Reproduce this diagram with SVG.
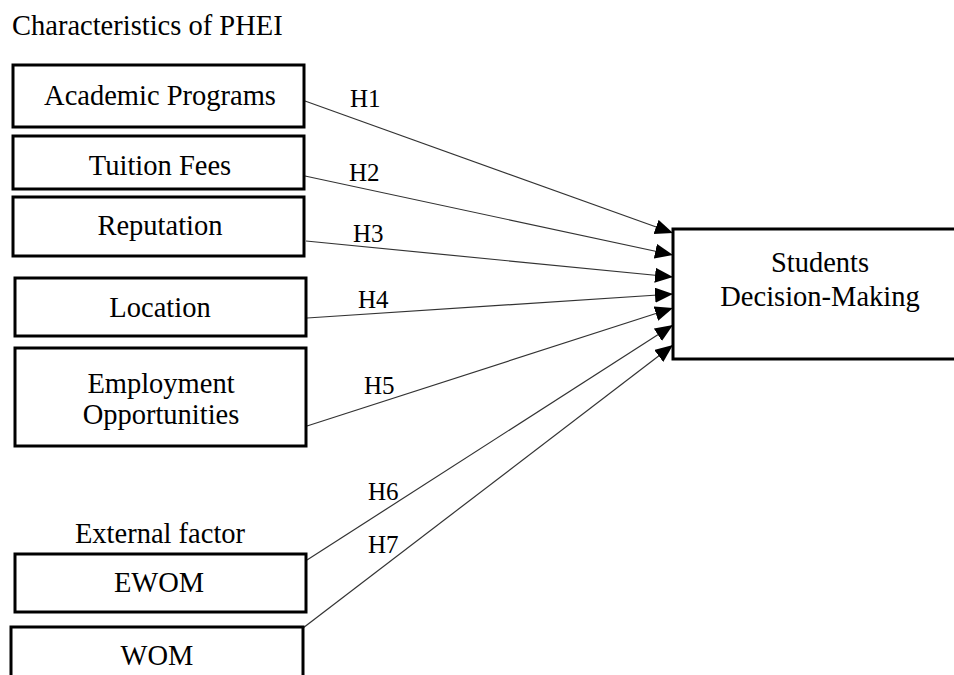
<svg xmlns="http://www.w3.org/2000/svg" width="954" height="675" viewBox="0 0 954 675">
<style>
text{font-family:"Liberation Serif","Times New Roman",serif;fill:#000}
.t{font-size:28.5px}
.c{text-anchor:middle}
.h{font-size:25px}
.box{fill:#fff;stroke:#000;stroke-width:3}
.ln{stroke:#333;stroke-width:1.2;fill:none;marker-end:url(#ah)}
</style>
<defs>
<marker id="ah" markerUnits="userSpaceOnUse" markerWidth="20" markerHeight="16" refX="18" refY="7.5" orient="auto">
<path d="M0,0 L18,7.5 L0,15 Z" fill="#000"/>
</marker>
</defs>
<rect width="954" height="675" fill="#fff"/>
<text class="t" x="12" y="35">Characteristics of PHEI</text>
<text class="t c" x="160" y="543">External factor</text>
<g id="connectors">
<line class="ln" x1="305" y1="101" x2="673" y2="233"/>
<line class="ln" x1="305" y1="176" x2="673" y2="255"/>
<line class="ln" x1="306" y1="241" x2="673" y2="277"/>
<line class="ln" x1="307" y1="318" x2="673" y2="294"/>
<line class="ln" x1="307" y1="426" x2="673" y2="308"/>
<line class="ln" x1="307" y1="560" x2="673" y2="325"/>
<line class="ln" x1="303" y1="628" x2="673" y2="345"/>
<text class="h" x="350" y="107">H1</text>
<text class="h" x="349" y="181">H2</text>
<text class="h" x="353" y="242">H3</text>
<text class="h" x="358" y="308">H4</text>
<text class="h" x="364" y="394">H5</text>
<text class="h" x="368" y="500">H6</text>
<text class="h" x="368" y="553">H7</text>
</g>
<g id="academic">
<rect class="box" x="13" y="65" width="291" height="62"/>
<text class="t c" x="160" y="105">Academic Programs</text>
</g>
<g id="tuition">
<rect class="box" x="13" y="136" width="291" height="53"/>
<text class="t c" x="160" y="175">Tuition Fees</text>
</g>
<g id="reputation">
<rect class="box" x="13" y="197" width="291" height="59"/>
<text class="t c" x="160" y="235">Reputation</text>
</g>
<g id="location">
<rect class="box" x="15" y="278" width="291" height="58"/>
<text class="t c" x="160" y="317">Location</text>
</g>
<g id="employment">
<rect class="box" x="15" y="348" width="291" height="98"/>
<text class="t c" x="161" y="393">Employment</text>
<text class="t c" x="161" y="424">Opportunities</text>
</g>
<g id="ewom">
<rect class="box" x="15" y="554" width="291" height="58"/>
<text class="t c" x="159" y="592">EWOM</text>
</g>
<g id="wom">
<rect class="box" x="11" y="627" width="292" height="60"/>
<text class="t c" x="157" y="665">WOM</text>
</g>
<g id="decision">
<rect class="box" x="673" y="229" width="290" height="130"/>
<text class="t c" x="820" y="272">Students</text>
<text class="t c" x="820" y="306">Decision-Making</text>
</g>
</svg>
